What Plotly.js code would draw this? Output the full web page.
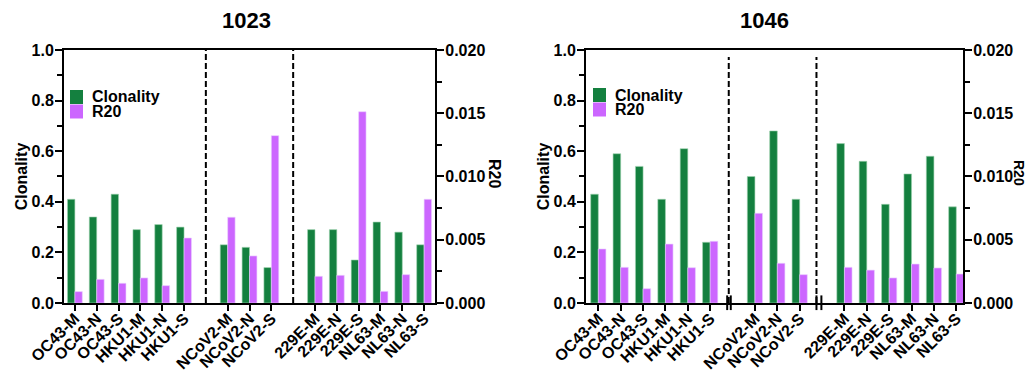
<!DOCTYPE html>
<html>
<head>
<meta charset="utf-8">
<script src="https://cdn.plot.ly/plotly-3.0.1.min.js"></script>
<style>html,body{margin:0;padding:0;background:#fff;}#chart{width:1027px;height:375px;}</style>
</head>
<body>
<div id="chart"></div>
<script>
// ---- data ----
const categories = ["OC43-M","OC43-N","OC43-S","HKU1-M","HKU1-N","HKU1-S",
                    "NCoV2-M","NCoV2-N","NCoV2-S",
                    "229E-M","229E-N","229E-S","NL63-M","NL63-N","NL63-S"];
const groupSizes = [6, 3, 6];
const panelTitles = ["1023", "1046"];
const seriesNames = ["Clonality", "R20"];
const clonality1023 = [0.41,0.34,0.43,0.29,0.31,0.30, 0.23,0.22,0.14, 0.29,0.29,0.17,0.32,0.28,0.23];
const r20_1023      = [0.0009,0.00187,0.00156,0.00198,0.00137,0.00514, 0.00678,0.00372,0.01323, 0.00211,0.00219,0.01512,0.00092,0.00224,0.0082];
const clonality1046 = [0.43,0.59,0.54,0.41,0.61,0.24, 0.50,0.68,0.41, 0.63,0.56,0.39,0.51,0.58,0.38];
const r20_1046      = [0.00427,0.00282,0.00113,0.00466,0.00279,0.00488, 0.00709,0.00314,0.00224, 0.00282,0.0026,0.00198,0.00308,0.00277,0.00229];

// slot positions: one empty slot between groups
const positions = [];
const gapSlots = [];
(function(){
  let slot = 0;
  groupSizes.forEach((n, g) => {
    for (let i = 0; i < n; i++) positions.push(slot++);
    if (g < groupSizes.length - 1) gapSlots.push(slot++);
  });
})();

const GREEN = "#14803f";
const PURPLE = "#cc66ff";
const FONT = "Liberation Sans, Arial, sans-serif";
const BW = 0.34;

function barTrace(y, name, color, xa, ya, offset) {
  return {
    type: "bar", x: positions, y: y, name: name, xaxis: xa, yaxis: ya,
    width: BW, offset: offset, showlegend: false,
    marker: {color: color, line: {color: color === GREEN ? "#9fd3b0" : "#ead0ff", width: 0.6}}
  };
}

const data = [
  barTrace(clonality1023, seriesNames[0], GREEN, "x", "y", -BW),
  barTrace(r20_1023, seriesNames[1], PURPLE, "x", "y2", 0),
  barTrace(clonality1046, seriesNames[0], GREEN, "x2", "y3", -BW),
  barTrace(r20_1046, seriesNames[1], PURPLE, "x2", "y4", 0)
];

const tickFont = {family: FONT, size: 16, color: "#000", weight: "bold"};
const xTickFont = {family: FONT, size: 16, color: "#000", weight: "bold"};

function xAxis(domain, range, anchor) {
  return {
    domain: domain, range: range, anchor: anchor,
    tickmode: "array", tickvals: positions, ticktext: categories,
    tickangle: -45, tickfont: xTickFont, ticklabelstandoff: -8,
    showline: true, linecolor: "#000", linewidth: 2, mirror: true,
    ticks: "outside", ticklen: 6, tickwidth: 2, tickcolor: "#000",
    showgrid: false, zeroline: false, fixedrange: true
  };
}
function leftY(anchor) {
  return {
    domain: [0.192, 0.8667], anchor: anchor, range: [0, 1],
    tickmode: "linear", tick0: 0, dtick: 0.2, tickformat: ".1f",
    tickfont: tickFont, ticklabelstandoff: -2,
    showline: true, linecolor: "#000", linewidth: 2,
    ticks: "outside", ticklen: 7, tickwidth: 2, tickcolor: "#000",
    minor: {dtick: 0.1, ticks: "outside", ticklen: 5, tickwidth: 2, tickcolor: "#000", showgrid: false},
    showgrid: false, zeroline: false, fixedrange: true,
    title: {text: "Clonality", font: {family: FONT, size: 16, color: "#000", weight: "bold"}, standoff: 0}
  };
}
function rightY(anchor, overlay) {
  return {
    anchor: anchor, overlaying: overlay, side: "right", range: [0, 0.02],
    tickmode: "linear", tick0: 0, dtick: 0.005, tickformat: ".3f",
    tickfont: tickFont, ticklabelstandoff: -2,
    showline: true, linecolor: "#000", linewidth: 2,
    ticks: "outside", ticklen: 7, tickwidth: 2, tickcolor: "#000",
    minor: {dtick: 0.0025, ticks: "outside", ticklen: 5, tickwidth: 2, tickcolor: "#000", showgrid: false},
    showgrid: false, zeroline: false, fixedrange: true
  };
}

const shapes = [];
const DASH = "6px,3px";
// left panel separators (centred in gap slots)
gapSlots.forEach(s => shapes.push({type: "line", xref: "x", yref: "y domain", x0: s, x1: s, y0: 0, y1: 1,
  line: {color: "#000", width: 2, dash: DASH}}));
// right panel separators
[5.83, 9.75].forEach(s => shapes.push({type: "line", xref: "x2", yref: "y3 domain", x0: s, x1: s, y0: 0, y1: 0.972,
  line: {color: "#000", width: 2, dash: DASH}}));
[5.76, 5.92, 9.75, 9.97].forEach(s => shapes.push({type: "line", xref: "x2", yref: "y3 domain", x0: s, x1: s, y0: -0.028, y1: 0.03,
  line: {color: "#000", width: 2}}));

// legend swatches (one key per panel)
const legendKeys = [{x: 70, y: 90}, {x: 593, y: 88}];
const annotations = [];
const titleFont = {family: FONT, size: 22, color: "#000", weight: "bold"};
const axTitleFont = {family: FONT, size: 16, color: "#000", weight: "bold"};
const W = 1027, H = 375;
legendKeys.forEach(k => {
  [GREEN, PURPLE].forEach((c, i) => {
    const y0 = k.y + i * 14.5;
    shapes.push({type: "rect", xref: "paper", yref: "paper", x0: k.x / W, x1: (k.x + 13) / W,
      y0: 1 - (y0 + 14) / H, y1: 1 - y0 / H, fillcolor: c, line: {width: 0}});
    annotations.push({text: seriesNames[i], xref: "paper", yref: "paper", x: (k.x + 21) / W, y: 1 - (y0 + 7) / H,
      xanchor: "left", yanchor: "middle", showarrow: false, borderpad: 0,
      font: {family: FONT, size: 16, color: "#000", weight: "bold"}});
  });
});

annotations.push(
  {text: panelTitles[0], xref: "paper", yref: "paper", x: 246/W, y: 1 - 20/H, showarrow: false, font: titleFont, xanchor: "center", yanchor: "middle"},
  {text: panelTitles[1], xref: "paper", yref: "paper", x: 764/W, y: 1 - 20/H, showarrow: false, font: titleFont, xanchor: "center", yanchor: "middle"},
  {text: seriesNames[1], xref: "paper", yref: "paper", x: 495/W, y: 1 - 173/H, showarrow: false, textangle: 90, font: axTitleFont, xanchor: "center", yanchor: "middle"},
  {text: seriesNames[1], xref: "paper", yref: "paper", x: 1019/W, y: 1 - 173/H, showarrow: false, textangle: 90, font: {family: FONT, size: 14, color: "#000", weight: "bold"}, xanchor: "center", yanchor: "middle"}
);

const layout = {
  width: W, height: H,
  margin: {l: 0, r: 0, t: 0, b: 0},
  paper_bgcolor: "#fff", plot_bgcolor: "#fff",
  font: {family: FONT, color: "#000"},
  showlegend: false,
  xaxis: xAxis([0.0623, 0.4236], [-0.5, 16.5], "y"),
  yaxis: leftY("x"),
  yaxis2: rightY("x", "y"),
  xaxis2: xAxis([0.5706, 0.9377], [-0.55, 16.3], "y3"),
  yaxis3: leftY("x2"),
  yaxis4: rightY("x2", "y3"),
  shapes: shapes,
  annotations: annotations
};

Plotly.newPlot("chart", data, layout, {displayModeBar: false, staticPlot: true});
</script>
</body>
</html>
